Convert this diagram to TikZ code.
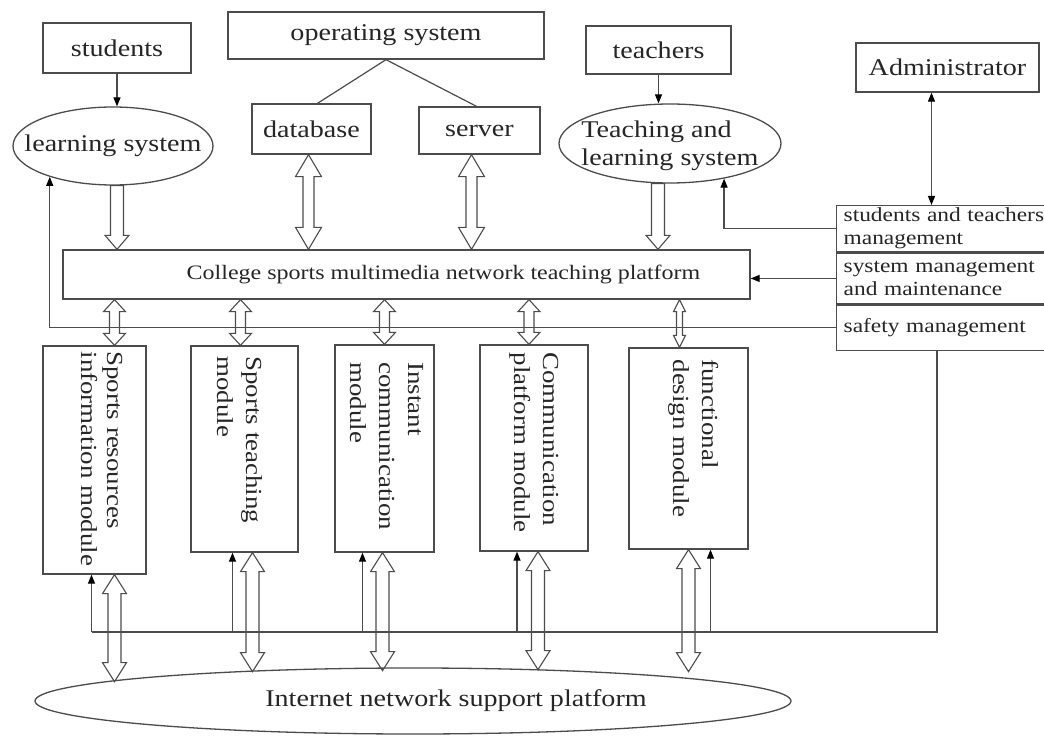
\documentclass[tikz,border=0pt]{standalone}
\usepackage{fontspec}
\setmainfont{Liberation Serif}[FakeStretch=1.17]
\usetikzlibrary{arrows.meta,calc,shapes.geometric}

\tikzset{
    block/.style={draw=black!70, line width=1.3pt, inner sep=0pt},
    oval/.style={block, ellipse},
    lbl/.style={inner sep=0pt, text=black!85, font=\fontsize{24}{28}\selectfont},
    wire/.style={draw=black!70, line width=1.2pt},
    thinarrow/.style={wire, -{Triangle[length=9pt,width=7pt,color=black]}},
    thinboth/.style={wire, {Triangle[length=9pt,width=7pt,color=black]}-{Triangle[length=9pt,width=7pt,color=black]}},
    hollow/.style={draw=black!70, line width=1.1pt},
    modlabel/.style={lbl, rotate=-90, anchor=west, align=left, font=\fontsize{23}{29}\selectfont},
    rowbox/.style={block, anchor=north west, inner xsep=7pt, text width=220pt, align=left,
        text=black!85, font=\fontsize{20}{23}\selectfont},
}

\newcommand{\hollowboth}[3][5/11/12]{%
    \foreach \sw/\hw/\hl in {#1}{
        \draw[hollow] let \p1=#2, \p2=#3 in
            (\x1,\y1) -- (\x1+\hw pt,\y1-\hl pt) -- (\x1+\sw pt,\y1-\hl pt)
            -- (\x1+\sw pt,\y2+\hl pt) -- (\x1+\hw pt,\y2+\hl pt) -- (\x1,\y2)
            -- (\x1-\hw pt,\y2+\hl pt) -- (\x1-\sw pt,\y2+\hl pt)
            -- (\x1-\sw pt,\y1-\hl pt) -- (\x1-\hw pt,\y1-\hl pt) -- cycle;
    }}
\newcommand{\hollowdown}[3][6.5/12/14]{%
    \foreach \sw/\hw/\hl in {#1}{
        \draw[hollow] let \p1=#2, \p2=#3 in
            (\x1-\sw pt,\y1) -- (\x1+\sw pt,\y1) -- (\x1+\sw pt,\y2+\hl pt)
            -- (\x1+\hw pt,\y2+\hl pt) -- (\x1,\y2) -- (\x1-\hw pt,\y2+\hl pt)
            -- (\x1-\sw pt,\y2+\hl pt) -- cycle;
    }}

\begin{document}
\begin{tikzpicture}[x=1pt,y=-1pt]
    \path[use as bounding box, fill=white] (0,0) rectangle (1044,738);

    \node[block, lbl, minimum width=148pt, minimum height=50pt] (stu) at (117,48) {students};
    \node[block, lbl, minimum width=316pt, minimum height=47pt] (os) at (386,35.5) {operating system};
    \node[block, lbl, minimum width=119pt, minimum height=50pt] (db) at (311.5,129) {database};
    \node[block, lbl, minimum width=121pt, minimum height=47pt] (srv) at (479.5,130.5) {server};
    \node[block, lbl, minimum width=145pt, minimum height=48pt] (tch) at (658.5,50) {teachers};
    \node[block, lbl, minimum width=183pt, minimum height=49pt] (adm) at (947.5,67.5) {Administrator};
    \node[oval, minimum width=200pt, minimum height=78pt] (ls) at (113,146) {};
    \node[lbl] (ls-text) at (ls.center) {learning system};
    \node[oval, minimum width=222pt, minimum height=79pt] (tls) at (670,143.5) {};
    \node[lbl, align=left] (tls-text) at ([yshift=-2pt]tls.center) {Teaching and\\learning system};

    \node[block, minimum width=687pt, minimum height=49pt] (plat) at (406.5,274.5) {};
    \node[lbl, font=\fontsize{20.5}{24}\selectfont] (plat-text) at ([xshift=37pt]plat.center)
        {College sports multimedia network teaching platform};

    \node[rowbox, minimum height=46pt] (r1) at (836,205) {students and teachers\\management};
    \node[rowbox, minimum height=51pt] (r2) at (r1.south west) {system management\\and maintenance};
    \node[rowbox, minimum height=45pt] (r3) at (r2.south west) {safety management};

    \node[block, minimum width=103pt, minimum height=228pt] (m1) at (94.5,460) {};
    \node[block, minimum width=107pt, minimum height=206pt] (m2) at (244.5,449) {};
    \node[block, minimum width=99pt, minimum height=207pt] (m3) at (384.5,448.5) {};
    \node[block, minimum width=108pt, minimum height=206pt] (m4) at (534,448) {};
    \node[block, minimum width=119pt, minimum height=201pt] (m5) at (688.5,448.5) {};
    \node[modlabel, font=\fontsize{23}{26}\selectfont] (m1-text) at ([xshift=7.5pt,yshift=-6pt]m1.north)
        {Sports resources\\information module};
    \node[modlabel] (m2-text) at ([xshift=-4.5pt,yshift=-11pt]m2.north) {Sports teaching\\module};
    \node[modlabel] (m3-text) at ([xshift=2.5pt,yshift=-18pt]m3.north) {Instant\\communication\\module};
    \node[modlabel] (m4-text) at ([yshift=-8pt]m4.north) {Communication\\platform module};
    \node[modlabel] (m5-text) at ([xshift=5.5pt,yshift=-12pt]m5.north) {functional\\design module};

    \node[oval, minimum width=756pt, minimum height=66pt] (net) at (413,701) {};
    \node[lbl] (net-text) at ([xshift=43pt]net.center) {Internet network support platform};

    \draw[thinarrow] (stu.south) -- (stu.south |- ls.north);
    \draw[wire] (os.south) -- ([xshift=6pt]db.north);
    \draw[wire] (os.south) -- ([xshift=-3pt]srv.north);
    \draw[thinarrow] (tch.south) -- (tch.south |- tls.north);
    \coordinate (adm-port) at ([xshift=-16pt]adm.south);
    \draw[thinboth] (adm-port) -- (adm-port |- r1.north);
    \draw[thinarrow] (r1.west) -| (tls.-33);
    \draw[thinarrow] (r2.west) -- (r2.west -| plat.east);
    \draw[thinarrow] (r3.west) -| (ls.206);

    \hollowdown{([xshift=4pt]ls.south)}{(plat.north)}
    \hollowdown{([xshift=-12pt]tls.south)}{(plat.north)}
    \hollowboth[5.5/13/22]{([xshift=-3pt]db.south)}{(plat.north)}
    \hollowboth[5.5/13/22]{([xshift=-8pt]srv.south)}{(plat.north)}

    \coordinate (bus) at (937,632);
    \foreach \m/\ta/\ua/\da/\ea in {m1/20/-3/20/107, m2/-4/-12/8/119, m3/0/-22/-2/118, m4/-5/-17/4/118, m5/-9/22/0/122}{
        \coordinate (\m-top) at ([xshift=\ta pt]\m.north);
        \coordinate (\m-up) at ([xshift=\ua pt]\m.south);
        \coordinate (\m-bot) at ([xshift=\da pt]\m.south);
        \hollowboth[6.5/12/19]{(\m-bot)}{($(\m-bot)+(0,\ea)$)}
        \draw[thinarrow] (\m-up |- bus) -- (\m-up);
    }
    \foreach \m in {m1,m2,m3,m4}{
        \hollowboth[5/11/12]{(\m-top |- plat.south)}{(\m-top)}
    }
    \hollowboth[3/6/12]{(m5-top |- plat.south)}{(m5-top)}
    \draw[wire] (bus |- r3.south) -- (bus) -- (bus -| m1-up);
\end{tikzpicture}
\end{document}
